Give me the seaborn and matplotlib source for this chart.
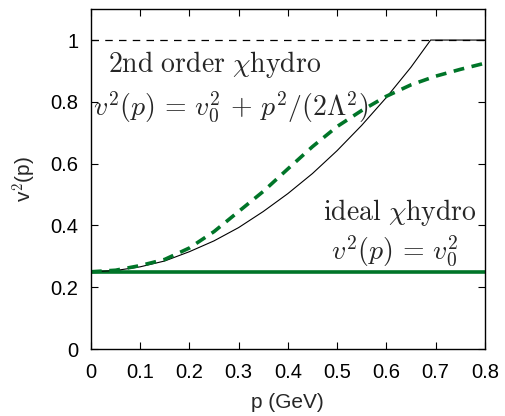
import matplotlib
matplotlib.use('Agg')
import matplotlib.pyplot as plt
import seaborn as sns
import pandas as pd

# values
p_second = [0.0, 0.05, 0.1, 0.15, 0.2, 0.25, 0.3, 0.35, 0.4, 0.45, 0.5, 0.55, 0.6, 0.65, 0.69, 0.8]
v2_second = [0.25, 0.254, 0.266, 0.285, 0.315, 0.35, 0.393, 0.445, 0.503, 0.568, 0.642, 0.724, 0.814, 0.912, 1.0, 1.0]

p_green = [0.0, 0.05, 0.1, 0.15, 0.2, 0.25, 0.3, 0.35, 0.4, 0.45, 0.5, 0.55, 0.6, 0.65, 0.7, 0.75, 0.8]
v2_green = [0.25, 0.255, 0.27, 0.29, 0.327, 0.38, 0.445, 0.51, 0.583, 0.655, 0.72, 0.772, 0.818, 0.855, 0.883, 0.905, 0.925]

p_ideal = [0.0, 0.8]
v2_ideal = [0.25, 0.25]

p_limit = [0.0, 0.8]
v2_limit = [1.0, 1.0]

x_ticks = [0, 0.1, 0.2, 0.3, 0.4, 0.5, 0.6, 0.7, 0.8]
x_labels = ['0', '0.1', '0.2', '0.3', '0.4', '0.5', '0.6', '0.7', '0.8']
y_ticks = [0, 0.2, 0.4, 0.6, 0.8, 1.0]
y_labels = ['0', '0.2', '0.4', '0.6', '0.8', '1']

green = '#007528'

sns.set_style('ticks')
plt.rcParams['font.family'] = ['Liberation Sans', 'DejaVu Sans']
plt.rcParams['mathtext.fontset'] = 'cm'

fig = plt.figure(figsize=(5.05, 4.16), dpi=100)
ax = fig.add_axes([0.180, 0.161, 0.780, 0.817])

sns.lineplot(x=p_limit, y=v2_limit, ax=ax, color='black', lw=0.9,
             linestyle=(0, (6, 5)), estimator=None, sort=False)
sns.lineplot(x=p_ideal, y=v2_ideal, ax=ax, color=green, lw=2.6,
             estimator=None, sort=False)
sns.lineplot(x=p_second, y=v2_second, ax=ax, color='black', lw=0.8,
             estimator=None, sort=False)
sns.lineplot(x=p_green, y=v2_green, ax=ax, color=green, lw=2.6,
             linestyle=(0, (3, 2.1)), estimator=None, sort=False)

ax.set_xlim(0, 0.8)
ax.set_ylim(0, 1.1)
ax.set_xticks(x_ticks)
ax.set_xticklabels(x_labels)
ax.set_yticks(y_ticks)
ax.set_yticklabels(y_labels)
ax.tick_params(direction='in', length=5, width=0.8, top=True, right=True,
               labelsize=14.5, colors='black')
ax.tick_params(axis='x', pad=10)
ax.tick_params(axis='y', pad=9)
for s in ax.spines.values():
    s.set_linewidth(1.0)
    s.set_color('black')

ax.set_xlabel('p (GeV)', fontsize=15, labelpad=8)
ax.set_ylabel(r'v$^2$(p)', fontsize=15, labelpad=8)

ax.text(0.252, 0.922, r'$\mathrm{2nd\ order}\ \chi\mathrm{hydro}$',
        fontsize=20, ha='center', va='center')
ax.text(0.284, 0.782, r'$v^2(p)\,=\,v_0^2\,+\,p^2/(2\Lambda^2)$',
        fontsize=20, ha='center', va='center')
ax.text(0.627, 0.443, r'$\mathrm{ideal}\ \chi\mathrm{hydro}$',
        fontsize=20, ha='center', va='center')
ax.text(0.617, 0.315, r'$v^2(p)\,=\,v_0^2$',
        fontsize=20, ha='center', va='center')

fig.savefig('out.png', dpi=100)
